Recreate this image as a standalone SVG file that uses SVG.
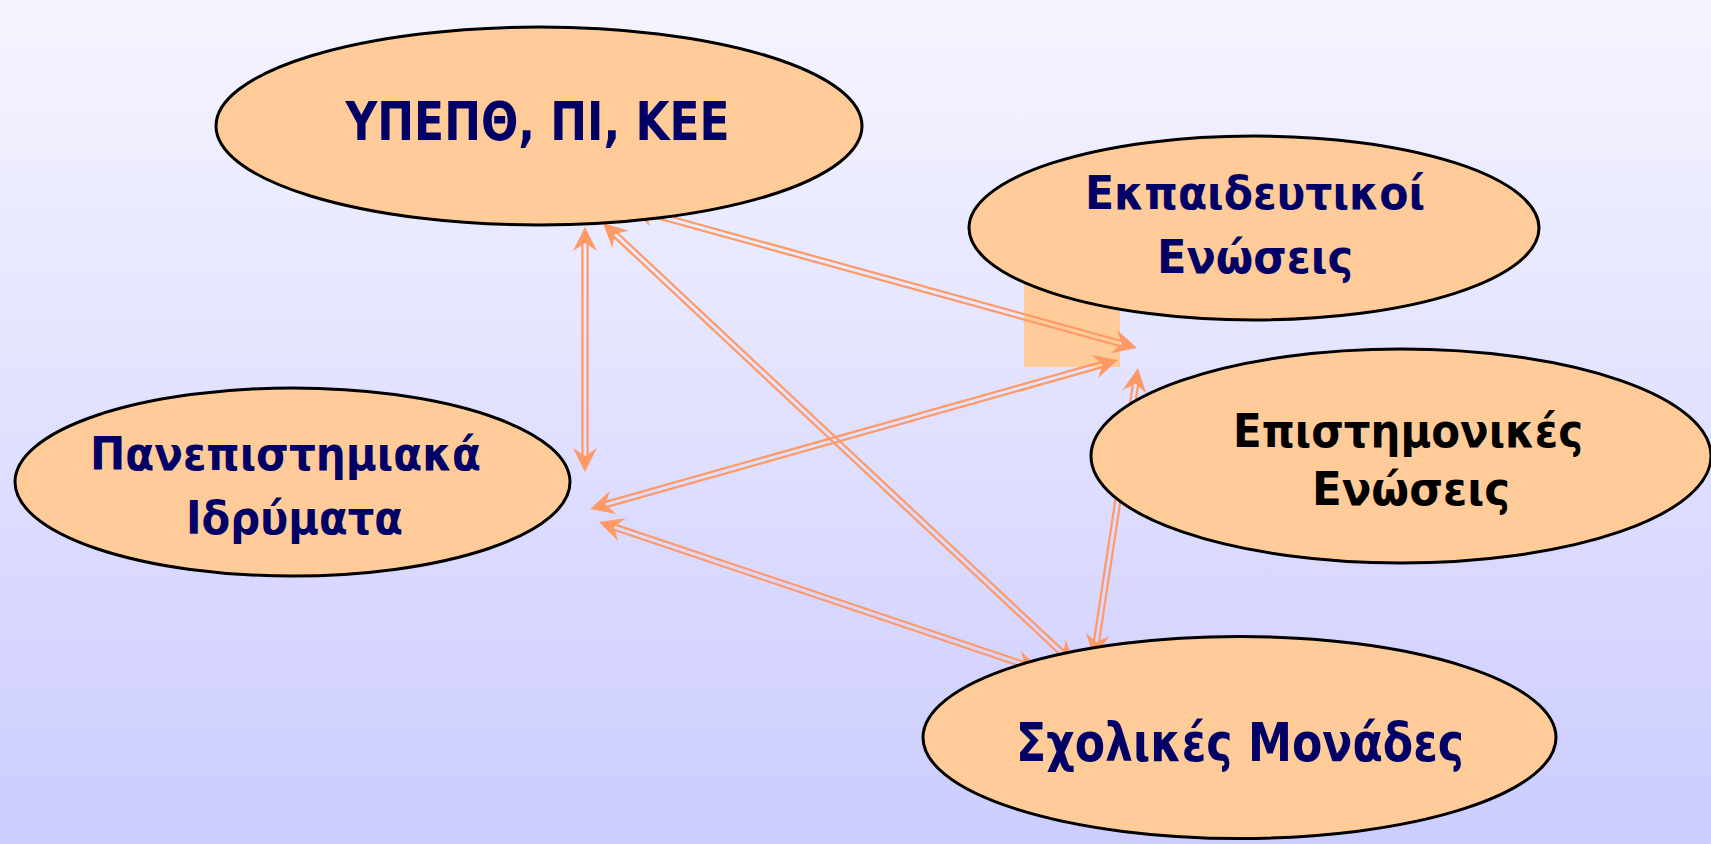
<svg xmlns="http://www.w3.org/2000/svg" width="1711" height="844" viewBox="0 0 1711 844">
  <defs>
    <linearGradient id="bg" x1="0" y1="0" x2="0" y2="1">
      <stop offset="0" stop-color="#F5F5FF"/>
      <stop offset="1" stop-color="#CCCCFF"/>
    </linearGradient>
    <marker id="head" viewBox="-26 -14 28 28" markerWidth="28" markerHeight="28" refX="0" refY="0" markerUnits="userSpaceOnUse" orient="auto-start-reverse">
      <path d="M0,0 L-24,-12 L-16,0 L-24,12 Z" fill="#FF9966"/>
    </marker>
    <style>
      .node { fill: #FFCC99; stroke: #000000; stroke-width: 3; }
      .lbl { font-family: "DejaVu Sans", "Liberation Sans", sans-serif; font-weight: bold; fill: #000066; text-anchor: middle; }
      .big { font-size: 53px; }
      .mid { font-size: 46px; }
      .black { fill: #000000; }
      .rail { stroke: #FF9966; stroke-width: 2.2; fill: none; }
      .axis { stroke: none; fill: none; marker-start: url(#head); marker-end: url(#head); }
    </style>
  </defs>
  <rect x="0" y="0" width="1711" height="844" fill="url(#bg)"/>
  <rect id="patch" x="1024" y="270" width="96" height="97" fill="#FFCC99"/>

  <g id="connectors">
    <g id="c1">
      <line class="rail" x1="582.4" y1="243" x2="582.4" y2="456"/>
      <line class="rail" x1="587.6" y1="243" x2="587.6" y2="456"/>
      <path class="axis" d="M585,227 L585,472"/>
    </g>
    <g id="c2">
      <line class="rail" x1="612.9" y1="235.84" x2="1061.54" y2="655.96"/>
      <line class="rail" x1="616.46" y1="232.04" x2="1065.1" y2="652.16"/>
      <path class="axis" d="M603,223 L1075,665"/>
    </g>
    <g id="c3">
      <line class="rail" x1="644.73" y1="214.77" x2="1120.89" y2="346.25"/>
      <line class="rail" x1="646.11" y1="209.75" x2="1122.27" y2="341.23"/>
      <path class="axis" d="M630,208 L1137,348"/>
    </g>
    <g id="c4">
      <line class="rail" x1="606.11" y1="507.15" x2="1103.31" y2="366.85"/>
      <line class="rail" x1="604.69" y1="502.15" x2="1101.89" y2="361.85"/>
      <path class="axis" d="M590,509 L1118,360"/>
    </g>
    <g id="c5">
      <line class="rail" x1="613.34" y1="529.55" x2="1024" y2="667.37"/>
      <line class="rail" x1="615" y1="524.63" x2="1025.66" y2="662.45"/>
      <path class="axis" d="M599,522 L1040,670"/>
    </g>
    <g id="c6">
      <line class="rail" x1="1138.17" y1="384.21" x2="1098.97" y2="642.57"/>
      <line class="rail" x1="1133.03" y1="383.43" x2="1093.83" y2="641.79"/>
      <path class="axis" d="M1138,368 L1094,658"/>
    </g>
  </g>

  <g id="n-ypepth">
    <ellipse class="node" cx="539" cy="126" rx="323" ry="99"/>
    <text class="lbl big" x="537.5" y="140" textLength="384" lengthAdjust="spacingAndGlyphs">ΥΠΕΠΘ, ΠΙ, ΚΕΕ</text>
  </g>
  <g id="n-ekpaideutikoi">
    <ellipse class="node" cx="1254" cy="228" rx="285" ry="92"/>
    <text class="lbl mid" x="1255" y="209" textLength="340" lengthAdjust="spacingAndGlyphs">Εκπαιδευτικοί</text>
    <text class="lbl mid" x="1255" y="273" textLength="196" lengthAdjust="spacingAndGlyphs">Ενώσεις</text>
  </g>
  <g id="n-epistimonikes">
    <ellipse class="node" cx="1401" cy="456" rx="310" ry="107"/>
    <text class="lbl mid black" x="1408" y="447" textLength="350" lengthAdjust="spacingAndGlyphs">Επιστημονικές</text>
    <text class="lbl mid black" x="1411" y="505" textLength="198" lengthAdjust="spacingAndGlyphs">Ενώσεις</text>
  </g>
  <g id="n-panepistimiaka">
    <ellipse class="node" cx="292.5" cy="482" rx="277.5" ry="94"/>
    <text class="lbl mid" x="285.5" y="470" textLength="391" lengthAdjust="spacingAndGlyphs">Πανεπιστημιακά</text>
    <text class="lbl mid" x="294.5" y="534" textLength="217" lengthAdjust="spacingAndGlyphs">Ιδρύματα</text>
  </g>
  <g id="n-sxolikes">
    <ellipse class="node" cx="1239.5" cy="737.5" rx="316.5" ry="101"/>
    <text class="lbl big" x="1240" y="761" textLength="448" lengthAdjust="spacingAndGlyphs">Σχολικές Μονάδες</text>
  </g>
</svg>
